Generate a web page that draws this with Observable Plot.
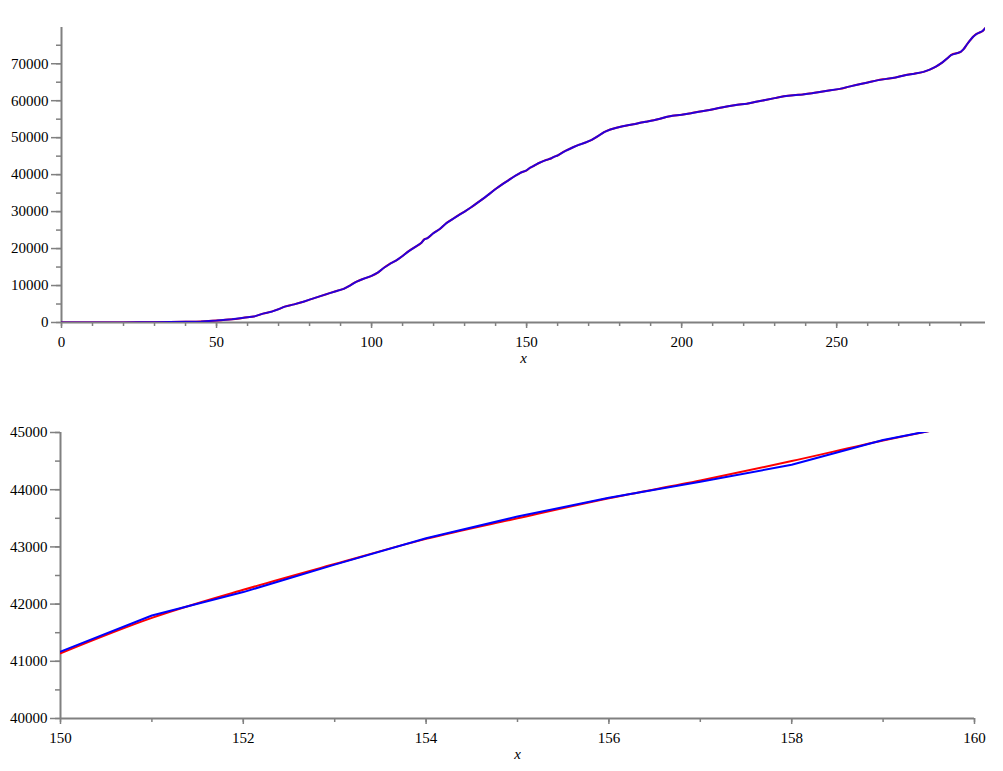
<!DOCTYPE html>
<html><head><meta charset="utf-8">
<script src="https://cdn.jsdelivr.net/npm/d3@7"></script>
<script src="https://cdn.jsdelivr.net/npm/@observablehq/plot@0.6"></script>
<style>
body{margin:0;background:#fff;}
#chart svg{display:block;}
</style></head><body><div id="chart"></div>
<script>
// ---- Top panel: cumulative series ----
const topX = [0,5,10,15,20,25,30,35,40,45,50,55,60,62,65,68,70,72,75,78,80,83,86,89,91,93,95,97,100,102,104,106,108,110,112,114,116,117,118,120,122,124,126,128,130,132,134,136,138,140,142,144,146,148,150,151,152,153,154,155,156,157,158,159,160,161,163,165,167,169,171,173,175,177,179,181,183,185,187,189,191,193,195,197,200,203,206,209,212,215,218,221,224,227,230,233,236,239,242,245,248,251,254,257,260,263,266,269,272,275,278,280,282,284,286,287,289,290,291,292,293,294,295,296,297,298];
const topY = [0,5,10,20,30,50,80,130,200,300,520,850,1400,1600,2400,3000,3600,4300,4900,5600,6200,7000,7800,8600,9100,10000,11000,11700,12600,13500,14800,15900,16800,18000,19300,20400,21500,22500,22800,24200,25300,26800,27900,29000,30000,31100,32300,33500,34800,36100,37300,38400,39500,40500,41170,41800,42210,42690,43150,43530,43860,44140,44435,44870,45180,45700,46600,47400,48100,48700,49400,50400,51500,52200,52700,53100,53400,53700,54100,54400,54700,55100,55600,55900,56200,56600,57100,57500,58000,58500,58900,59200,59700,60200,60700,61200,61500,61700,62000,62400,62800,63200,63800,64400,64900,65500,65900,66300,66900,67300,67800,68400,69200,70300,71700,72400,72900,73200,74000,75200,76300,77300,78000,78400,78800,79700];

// ---- Bottom panel: zoom on days 150..160 ----
const zoomX = [150,151,152,153,154,155,156,157,158,159,160];
const zoomObserved = [41170,41800,42210,42690,43150,43530,43860,44140,44435,44870,45180];
const zoomModel    = [41140,41760,42250,42700,43140,43500,43850,44160,44500,44860,45180];

// ---- Ticks ----
const topXMajor = [0,50,100,150,200,250];
const topXMinor = d3.range(0, 300, 10);
const topYMajor = [0,10000,20000,30000,40000,50000,60000,70000];
const topYMinor = d3.range(0, 80000, 5000);
const botXMajor = [150,152,154,156,158,160];
const botXMinor = d3.range(150, 161, 1);
const botYMajor = [40000,41000,42000,43000,44000,45000];
const botYMinor = d3.range(40000, 45001, 500);

const topData = topX.map((x, i) => ({x, y: topY[i]}));
const obsData = zoomX.map((x, i) => ({x, y: zoomObserved[i]}));
const modData = zoomX.map((x, i) => ({x, y: zoomModel[i]}));

const axisCol = "#808080";
const serif = "'Liberation Serif', 'Times New Roman', serif";
const font = {fontFamily: serif, fontSize: "15px", color: "black", background: "white", overflow: "visible"};

function axes(xMajor, xMinor, yMajor, yMinor, x0, y0) {
  return [
    Plot.ruleY([y0], {stroke: axisCol, strokeWidth: 2}),
    Plot.ruleX([x0], {stroke: axisCol, strokeWidth: 2}),
    Plot.axisX({ticks: xMinor, tickSize: 4, tickFormat: () => "", stroke: axisCol, strokeWidth: 1.5}),
    Plot.axisX({ticks: xMajor, tickSize: 6, tickPadding: 8, fontSize: 15, fontFamily: serif, stroke: axisCol, strokeWidth: 1.5, tickFormat: d => String(d)}),
    Plot.axisY({ticks: yMinor, tickSize: 5, tickFormat: () => "", stroke: axisCol, strokeWidth: 1.5}),
    Plot.axisY({ticks: yMajor, tickSize: 10, tickPadding: 3, fontSize: 15, fontFamily: serif, stroke: axisCol, strokeWidth: 1.5, tickFormat: d => String(d)}),
    Plot.text(["x"], {frameAnchor: "bottom", text: d => d, dy: 40, fontStyle: "italic", fontSize: 15, fontFamily: serif, lineAnchor: "bottom"})
  ];
}

const topPlot = Plot.plot({
  width: 1003, height: 385,
  marginTop: 27, marginBottom: 63, marginLeft: 61, marginRight: 18,
  style: font,
  x: {domain: [0, 298], label: null},
  y: {domain: [0, 79800], label: null},
  marks: [
    ...axes(topXMajor, topXMinor, topYMajor, topYMinor, 0, 0),
    Plot.line(topData, {x: "x", y: "y", stroke: "#ff0000", strokeWidth: 2, curve: "monotone-x", clip: true}),
    Plot.line(topData, {x: "x", y: "y", stroke: "#0000ff", strokeWidth: 2, strokeOpacity: 0.85, clip: true})
  ]
});

const bottomPlot = Plot.plot({
  width: 1003, height: 386,
  marginTop: 47, marginBottom: 53, marginLeft: 60, marginRight: 29,
  style: font,
  x: {domain: [150, 160], label: null},
  y: {domain: [40000, 45000], label: null},
  marks: [
    ...axes(botXMajor, botXMinor, botYMajor, botYMinor, 150, 40000),
    Plot.line(modData, {x: "x", y: "y", stroke: "#ff0000", strokeWidth: 2, curve: "monotone-x", clip: true}),
    Plot.line(obsData, {x: "x", y: "y", stroke: "#0000ff", strokeWidth: 2, clip: true})
  ]
});

document.getElementById("chart").append(topPlot, bottomPlot);
</script>
</body></html>
